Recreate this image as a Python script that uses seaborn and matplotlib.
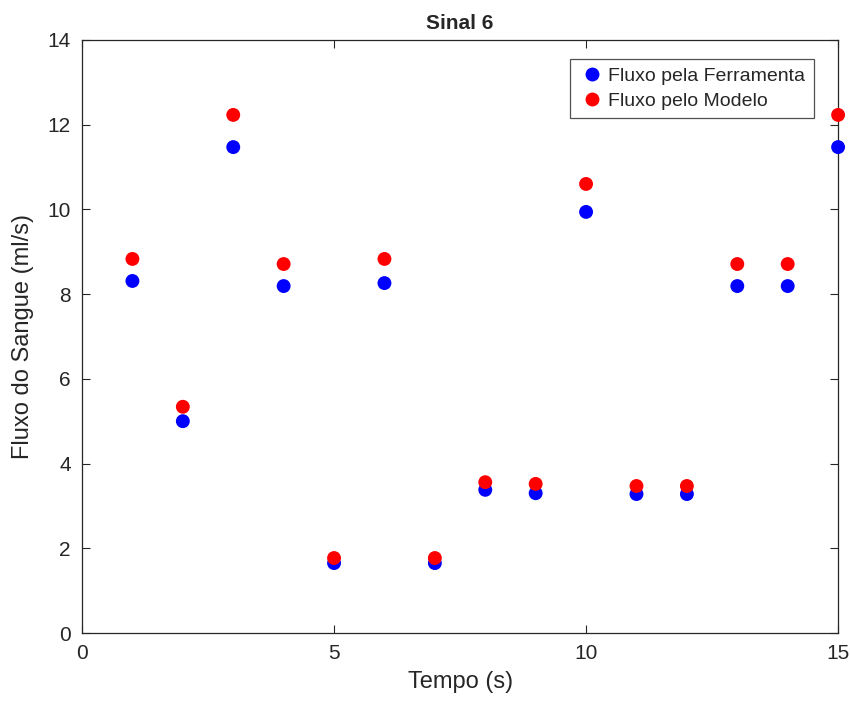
import numpy as np
import matplotlib
matplotlib.use('Agg')
import matplotlib.pyplot as plt
import pandas as pd
import seaborn as sns

# dados
tempo = [1, 2, 3, 4, 5, 6, 7, 8, 9, 10, 11, 12, 13, 14, 15]
fluxo_ferramenta = [8.31, 5.00, 11.47, 8.19, 1.65, 8.26, 1.65, 3.38, 3.30, 9.94, 3.28, 3.28, 8.19, 8.19, 11.47]
fluxo_modelo = [8.83, 5.34, 12.23, 8.71, 1.77, 8.83, 1.77, 3.56, 3.52, 10.60, 3.47, 3.47, 8.71, 8.71, 12.23]
series = ['Fluxo pela Ferramenta', 'Fluxo pelo Modelo']
cores = ['#0000ff', '#ff0000']

df = pd.DataFrame({
    'Tempo (s)': tempo * 2,
    'Fluxo do Sangue (ml/s)': fluxo_ferramenta + fluxo_modelo,
    'serie': [series[0]] * len(tempo) + [series[1]] * len(tempo),
})

sns.set_style('white')
plt.rcParams['font.family'] = ['Liberation Sans', 'DejaVu Sans']

fig = plt.figure(figsize=(8.5, 7.13), dpi=100)
ax = fig.add_axes([0.0965, 0.1122, 0.8895, 0.8318])

sns.scatterplot(data=df, x='Tempo (s)', y='Fluxo do Sangue (ml/s)', hue='serie',
                palette=cores, s=100, linewidth=0, ax=ax, clip_on=False, zorder=3)

ax.set_xlim(0, 15)
ax.set_ylim(0, 14)
ax.set_xticks([0, 5, 10, 15])
ax.set_yticks(range(0, 15, 2))
ax.tick_params(direction='in', length=6, width=0.8, top=True, right=True,
               bottom=True, left=True, labelsize=15, colors='#262626', pad=8)
for sp in ax.spines.values():
    sp.set_color('#262626')
    sp.set_linewidth(0.9)

ax.set_xlabel('Tempo (s)', fontsize=17, color='#262626', labelpad=6)
ax.set_ylabel('Fluxo do Sangue (ml/s)', fontsize=17, color='#262626', labelpad=10)
ax.set_title('Sinal 6', fontsize=15, fontweight='bold', pad=8)

leg = ax.legend(loc='upper right', bbox_to_anchor=(0.968, 0.968), fontsize=14,
                frameon=True, fancybox=False, handletextpad=0.2, borderpad=0.45,
                labelspacing=0.35, handlelength=1.3, borderaxespad=0)
leg.get_frame().set_edgecolor('#262626')
leg.get_frame().set_linewidth(0.9)

fig.savefig('out.png', dpi=100)
